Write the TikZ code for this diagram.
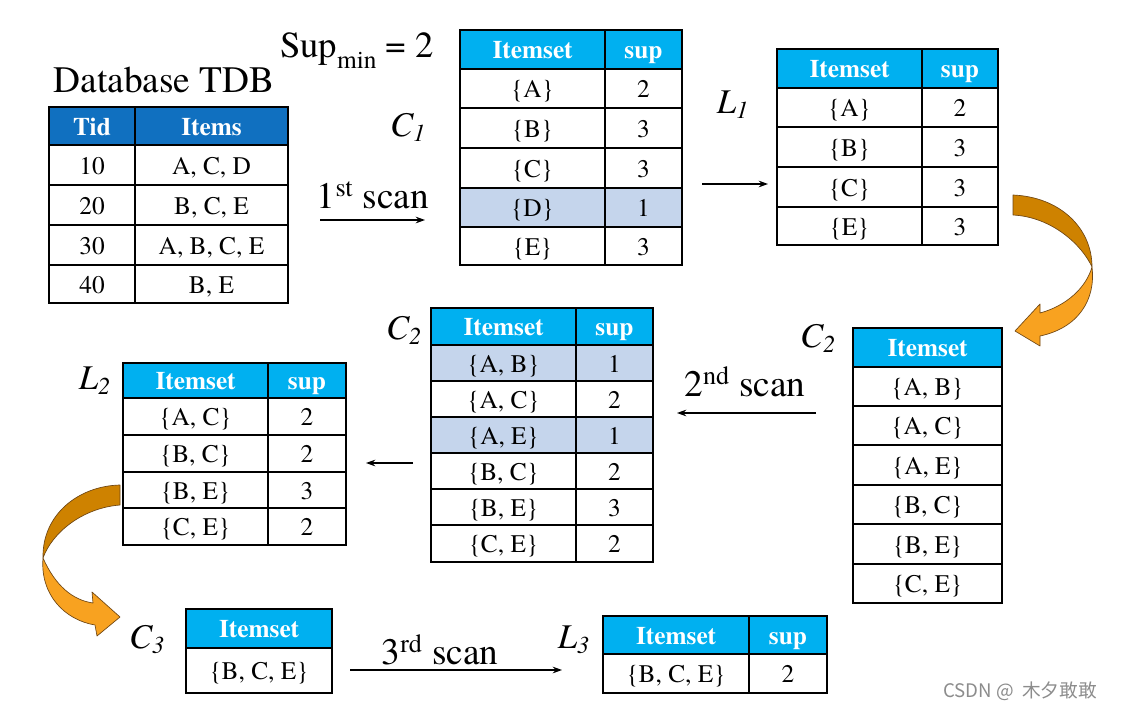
\documentclass[tikz,border=0pt]{standalone}
\usepackage{fontspec}
\setmainfont{texgyretermes}[Extension=.otf, UprightFont=*-regular, BoldFont=*-bold, ItalicFont=*-italic, BoldItalicFont=*-bolditalic]
\newfontfamily\cjkfont{Noto Sans CJK SC}
\usetikzlibrary{arrows.meta}
\definecolor{hdrblue}{RGB}{0,176,240}
\definecolor{tdbblue}{RGB}{16,112,192}
\definecolor{hlblue}{RGB}{197,213,236}
\definecolor{orgdark}{RGB}{206,130,0}
\definecolor{orglight}{RGB}{248,162,32}
\definecolor{orgline}{RGB}{110,70,20}
\newcommand\drawtab[8]{%
  \fill[#8] (#1,#4) rectangle (#3,#5);
  \foreach \yy in {#7} {\draw[inner] (#1,\yy) -- (#3,\yy);}
  \draw[inner] (#1,#5) -- (#3,#5);
  \draw[outer] (#2,#4) -- (#2,#6);
  \draw[outer] (#1,#4) rectangle (#3,#6);
}
\begin{document}
\begin{tikzpicture}[x=0.75pt,y=-0.75pt,
  outer/.style={line width=2.2pt},
  inner/.style={line width=1.1pt},
  cell/.style={font=\fontsize{19}{22}\selectfont, inner sep=0pt, text height=16pt, text depth=2pt},
  hdr/.style={font=\bfseries\fontsize{19}{22}\selectfont, text=white, inner sep=0pt, text height=16pt, text depth=2pt},
  biglabel/.style={font=\fontsize{28}{32}\selectfont, inner sep=0pt},
  setlabel/.style={font=\itshape\fontsize{26}{30}\selectfont, inner sep=0pt},
  flow/.style={line width=0.9pt, -{Stealth[length=7pt,width=5pt]}},
  ribbon/.style={draw=orgline, line width=0.5pt, line join=round}
]
\useasboundingbox (0,0) rectangle (1121,710);
\fill[white] (0,0) rectangle (1121,710);

% ---------- Database TDB ----------
\node[biglabel] (tdbtitle) at (164,80) {Database TDB};
\drawtab{49}{135}{288}{107}{145}{303}{185,225,265}{tdbblue}
\node[hdr] (tdbh1) at (92,126) {Tid};
\node[hdr] (tdbh2) at (211.5,126) {Items};
\node[cell] (tdb1a) at (92,165) {10};   \node[cell] (tdb1b) at (211.5,165) {A, C, D};
\node[cell] (tdb2a) at (92,205) {20};   \node[cell] (tdb2b) at (211.5,205) {B, C, E};
\node[cell] (tdb3a) at (92,245) {30};   \node[cell] (tdb3b) at (211.5,245) {A, B, C, E};
\node[cell] (tdb4a) at (92,284) {40};   \node[cell] (tdb4b) at (211.5,284) {B, E};

% ---------- Sup min ----------
\node[font=\fontsize{27.5}{30}\selectfont, inner sep=0pt, anchor=base] (supmin) at (357,58)
  {Sup\raisebox{-0.28em}{\fontsize{19}{20}\selectfont min} = 2};

% ---------- C1 ----------
\node[setlabel] (lc1) at (408,127) {C\textsubscript{1}};
\fill[hlblue] (460,188) rectangle (682,227);
\drawtab{460}{605}{682}{30}{69}{265}{108,148,188,227}{hdrblue}
\node[hdr] (c1h1) at (532.5,49.5) {Itemset};
\node[hdr] (c1h2) at (643.5,49.5) {sup};
\node[cell] (c1a) at (532.5,88.5) {\{A\}};  \node[cell] (c1as) at (643.5,88.5) {2};
\node[cell] (c1b) at (532.5,128) {\{B\}};   \node[cell] (c1bs) at (643.5,128) {3};
\node[cell] (c1c) at (532.5,168) {\{C\}};   \node[cell] (c1cs) at (643.5,168) {3};
\node[cell] (c1d) at (532.5,207.5) {\{D\}}; \node[cell] (c1ds) at (643.5,207.5) {1};
\node[cell] (c1e) at (532.5,246) {\{E\}};   \node[cell] (c1es) at (643.5,246) {3};

% ---------- L1 ----------
\node[setlabel] (ll1) at (733,105) {L\textsubscript{1}};
\drawtab{777}{922}{998}{49}{88}{245}{127,167,207}{hdrblue}
\node[hdr] (l1h1) at (849.5,68.5) {Itemset};
\node[hdr] (l1h2) at (960,68.5) {sup};
\node[cell] (l1a) at (849.5,107.5) {\{A\}}; \node[cell] (l1as) at (960,107.5) {2};
\node[cell] (l1b) at (849.5,147) {\{B\}};   \node[cell] (l1bs) at (960,147) {3};
\node[cell] (l1c) at (849.5,187) {\{C\}};   \node[cell] (l1cs) at (960,187) {3};
\node[cell] (l1e) at (849.5,226) {\{E\}};   \node[cell] (l1es) at (960,226) {3};

% ---------- C2 (right) ----------
\node[setlabel] (lc2r) at (818,338) {C\textsubscript{2}};
\drawtab{853}{853}{1002}{328}{367}{603}{406,445,485,524,564}{hdrblue}
\node[hdr] (c2rh) at (927.5,347.5) {Itemset};
\node[cell] (c2r1) at (927.5,386.5) {\{A, B\}};
\node[cell] (c2r2) at (927.5,425.5) {\{A, C\}};
\node[cell] (c2r3) at (927.5,465) {\{A, E\}};
\node[cell] (c2r4) at (927.5,504.5) {\{B, C\}};
\node[cell] (c2r5) at (927.5,544) {\{B, E\}};
\node[cell] (c2r6) at (927.5,583.5) {\{C, E\}};

% ---------- C2 (middle) ----------
\node[setlabel] (lc2m) at (404,330) {C\textsubscript{2}};
\fill[hlblue] (431,345) rectangle (653,381);
\fill[hlblue] (431,417) rectangle (653,453);
\drawtab{431}{576}{653}{308}{345}{562}{381,417,453,489,525}{hdrblue}
\node[hdr] (c2mh1) at (503.5,326.5) {Itemset};
\node[hdr] (c2mh2) at (614.5,326.5) {sup};
\node[cell] (c2m1) at (503.5,363) {\{A, B\}};   \node[cell] (c2m1s) at (614.5,363) {1};
\node[cell] (c2m2) at (503.5,399) {\{A, C\}};   \node[cell] (c2m2s) at (614.5,399) {2};
\node[cell] (c2m3) at (503.5,435) {\{A, E\}};   \node[cell] (c2m3s) at (614.5,435) {1};
\node[cell] (c2m4) at (503.5,471) {\{B, C\}};   \node[cell] (c2m4s) at (614.5,471) {2};
\node[cell] (c2m5) at (503.5,507) {\{B, E\}};   \node[cell] (c2m5s) at (614.5,507) {3};
\node[cell] (c2m6) at (503.5,543.5) {\{C, E\}}; \node[cell] (c2m6s) at (614.5,543.5) {2};

% ---------- L2 ----------
\node[setlabel] (ll2) at (95,381) {L\textsubscript{2}};
\drawtab{123}{268}{346}{363}{398}{545}{435,472,508}{hdrblue}
\node[hdr] (l2h1) at (195.5,380.5) {Itemset};
\node[hdr] (l2h2) at (307,380.5) {sup};
\node[cell] (l21) at (195.5,416.5) {\{A, C\}}; \node[cell] (l21s) at (307,416.5) {2};
\node[cell] (l22) at (195.5,453.5) {\{B, C\}}; \node[cell] (l22s) at (307,453.5) {2};
\node[cell] (l23) at (195.5,490) {\{B, E\}};   \node[cell] (l23s) at (307,490) {3};
\node[cell] (l24) at (195.5,526.5) {\{C, E\}}; \node[cell] (l24s) at (307,526.5) {2};

% ---------- C3 ----------
\node[setlabel] (lc3) at (147,640) {C\textsubscript{3}};
\drawtab{186}{186}{332}{609}{648}{693}{648}{hdrblue}
\node[hdr] (c3h) at (259,628.5) {Itemset};
\node[cell] (c31) at (259,670.5) {\{B, C, E\}};

% ---------- L3 ----------
\node[setlabel] (ll3) at (574,640) {L\textsubscript{3}};
\drawtab{603}{749}{827}{616}{654}{693}{654}{hdrblue}
\node[hdr] (l3h1) at (676,635) {Itemset};
\node[hdr] (l3h2) at (788,635) {sup};
\node[cell] (l31) at (676,673.5) {\{B, C, E\}}; \node[cell] (l31s) at (788,673.5) {2};

% ---------- scan labels and arrows ----------
\node[biglabel] (scan1) at (373,195) {1\textsuperscript{st} scan};
\node[biglabel] (scan2) at (745,382) {2\textsuperscript{nd} scan};
\node[biglabel] (scan3) at (440,650) {3\textsuperscript{rd} scan};
\coordinate (a1s) at (320,220); \coordinate (a1e) at (425,220);
\coordinate (a2s) at (702,184); \coordinate (a2e) at (768,184);
\coordinate (a3s) at (816,413); \coordinate (a3e) at (677,413);
\coordinate (a4s) at (413,463); \coordinate (a4e) at (366,463);
\coordinate (a5s) at (350,670); \coordinate (a5e) at (562,670);
\draw[flow] (a1s) -- (a1e);
\draw[flow] (a2s) -- (a2e);
\draw[flow] (a3s) -- (a3e);
\draw[flow] (a4s) -- (a4e);
\draw[flow] (a5s) -- (a5e);

% ---------- curved orange arrows ----------
\draw[ribbon, fill=orgdark] (1013,195) .. controls (1060,197) and (1092,228) .. (1092,267)
   .. controls (1082,245) and (1052,217) .. (1013,215) -- cycle;
\draw[ribbon, fill=orglight] (1092,267) .. controls (1086,288) and (1066,306) .. (1040,313)
   -- (1040,304) -- (1015,331) -- (1040,346) -- (1040,336)
   .. controls (1078,328) and (1096,300) .. (1092,267) -- cycle;

\draw[ribbon, fill=orgdark] (120,485) .. controls (78,486) and (42,515) .. (43,558)
   .. controls (52,533) and (82,508) .. (120,505) -- cycle;
\draw[ribbon, fill=orglight] (43,558) .. controls (55,585) and (72,600) .. (93,603)
   -- (92,592) -- (120,617) -- (97,636) -- (95,625)
   .. controls (65,620) and (40,595) .. (43,558) -- cycle;

% ---------- credit ----------
\node[font=\cjkfont\fontsize{14}{16}\selectfont, text=black!45, inner sep=0pt] (csdn) at (1020,691) {CSDN @\ \ 木夕敢敢};
\end{tikzpicture}
\end{document}
